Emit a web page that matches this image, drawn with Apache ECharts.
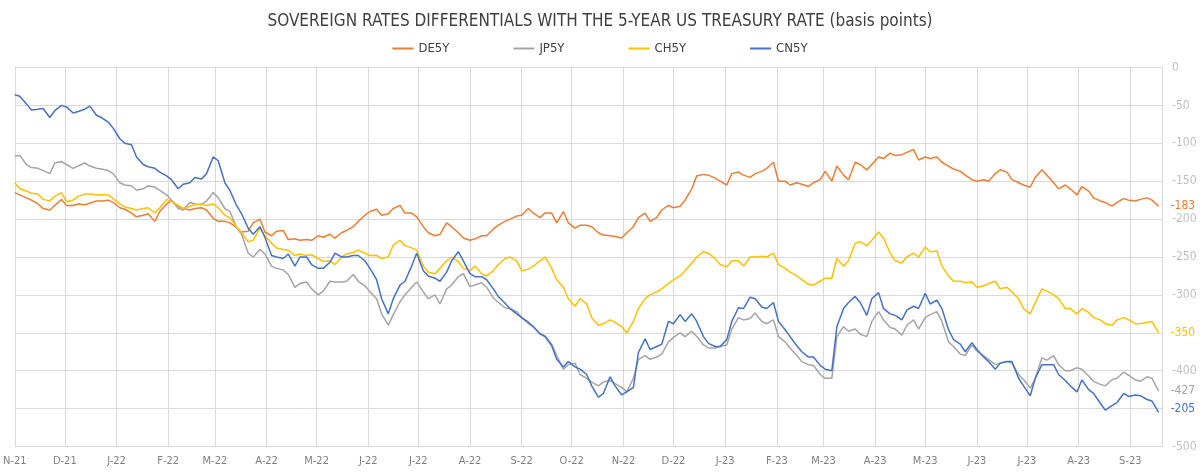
<!DOCTYPE html>
<html>
<head>
<meta charset="utf-8">
<script src="https://cdn.jsdelivr.net/npm/echarts@6/dist/echarts.min.js"></script>
<style>
  html, body { margin: 0; padding: 0; background: #fff; }
  #chart { width: 1200px; height: 472px; }
</style>
</head>
<body>
<div id="chart"></div>
<script>
// readings twice a week: Mondays (starting 1 Nov 2021) and the Thursdays after them
const firstWeek = new Date(2021, 10, 1);
const lastDay = new Date(2023, 8, 20);

const seriesNames = ["DE5Y", "JP5Y", "CH5Y", "CN5Y"];
const seriesColors = ["#ED7D31", "#A5A5A5", "#FFC000", "#4472C4"];
const endLabels = ["-183", "-427", "-350", "-205"];

const de5yMon = [
  -165, -172, -180, -188, -174, -182, -181, -176, -175, -185,
  -192, -195, -203, -180, -183, -188, -185, -199, -203, -211,
  -216, -200, -222, -215, -226, -227, -222, -220, -218, -210,
  -195, -187, -193, -182, -192, -210, -222, -205, -218, -228,
  -222, -213, -203, -196, -186, -198, -192, -190, -212, -208,
  -218, -222, -225, -210, -192, -198, -182, -183, -160, -141,
  -146, -155, -138, -145, -137, -125, -150, -152, -157, -148,
  -150, -142, -125, -135, -118, -113, -115, -108, -118, -118,
  -130, -137, -148, -148, -140, -138, -152, -158, -135, -152,
  -155, -168, -163, -176, -183, -173, -176, -172, -183
];
const de5yThu = [
  -168, -175, -186, -182, -182, -180, -179, -176, -178, -187,
  -197, -193, -190, -176, -186, -186, -188, -203, -205, -217,
  -205, -217, -216, -227, -228, -228, -224, -225, -215, -203,
  -190, -195, -186, -192, -197, -218, -220, -210, -225, -226,
  -222, -208, -200, -195, -192, -192, -205, -205, -208, -210,
  -221, -223, -218, -198, -203, -188, -185, -175, -143, -142,
  -150, -140, -142, -140, -133, -150, -155, -154, -152, -137,
  -130, -148, -128, -128, -120, -116, -112, -122, -120, -125,
  -134, -142, -150, -150, -135, -148, -155, -145, -142, -160,
  -160, -157, -172, -178, -178, -175, -174, -175
];

const jp5yMon = [
  -117, -128, -133, -140, -124, -133, -126, -133, -136, -152,
  -156, -160, -158, -168, -186, -178, -181, -165, -186, -211,
  -245, -240, -262, -267, -290, -283, -300, -282, -283, -273,
  -288, -305, -340, -309, -290, -296, -300, -292, -276, -289,
  -284, -304, -317, -322, -338, -352, -365, -398, -390, -410,
  -420, -413, -422, -410, -380, -382, -362, -350, -348, -366,
  -370, -366, -330, -331, -335, -333, -362, -380, -392, -405,
  -410, -342, -345, -355, -322, -343, -353, -333, -330, -322,
  -362, -378, -366, -380, -392, -388, -405, -423, -383, -380,
  -400, -396, -407, -418, -412, -402, -412, -408, -427
];
const jp5yThu = [
  -116, -132, -136, -126, -128, -130, -130, -134, -140, -155,
  -162, -156, -162, -175, -188, -180, -176, -172, -190, -220,
  -250, -246, -265, -273, -285, -292, -295, -283, -282, -282,
  -296, -325, -326, -300, -283, -305, -312, -287, -272, -287,
  -290, -310, -318, -330, -342, -354, -380, -392, -405, -415,
  -415, -417, -428, -385, -385, -378, -356, -355, -355, -370,
  -368, -345, -333, -324, -338, -355, -370, -388, -393, -410,
  -355, -348, -352, -335, -333, -345, -340, -345, -326, -335,
  -368, -380, -374, -385, -390, -390, -412, -410, -386, -392,
  -400, -398, -414, -420, -410, -406, -414, -410
];

const ch5yMon = [
  -152, -163, -167, -176, -165, -175, -167, -168, -168, -180,
  -186, -186, -192, -174, -182, -183, -180, -180, -195, -210,
  -230, -212, -232, -240, -248, -248, -252, -255, -250, -244,
  -245, -248, -250, -228, -238, -262, -272, -255, -256, -268,
  -272, -268, -252, -255, -266, -255, -265, -290, -315, -312,
  -340, -333, -342, -335, -305, -296, -285, -275, -258, -243,
  -252, -263, -255, -250, -249, -245, -265, -275, -286, -282,
  -278, -262, -232, -235, -217, -245, -258, -245, -237, -242,
  -275, -282, -283, -288, -282, -290, -305, -325, -292, -300,
  -318, -325, -323, -333, -340, -330, -338, -336, -350
];
const ch5yThu = [
  -160, -166, -174, -170, -177, -170, -167, -168, -173, -184,
  -188, -185, -185, -177, -186, -181, -182, -185, -198, -218,
  -228, -222, -238, -241, -246, -247, -256, -260, -246, -241,
  -248, -252, -234, -235, -241, -270, -265, -250, -265, -262,
  -275, -260, -250, -268, -262, -250, -280, -305, -305, -330,
  -338, -336, -350, -318, -300, -292, -280, -268, -250, -245,
  -260, -255, -262, -250, -250, -260, -270, -280, -287, -278,
  -252, -255, -230, -228, -225, -255, -250, -250, -243, -262,
  -282, -284, -290, -285, -292, -296, -318, -310, -295, -305,
  -318, -318, -330, -338, -333, -333, -338, -335
];

const cn5yMon = [
  -36, -48, -55, -66, -50, -60, -55, -63, -72, -94,
  -102, -128, -133, -143, -160, -152, -147, -118, -152, -182,
  -212, -210, -248, -252, -262, -250, -265, -257, -250, -248,
  -255, -280, -325, -287, -262, -268, -278, -270, -243, -272,
  -276, -292, -311, -325, -336, -351, -367, -395, -395, -405,
  -435, -408, -432, -422, -358, -368, -335, -326, -325, -355,
  -368, -359, -317, -303, -316, -310, -346, -367, -382, -393,
  -400, -318, -302, -327, -297, -325, -333, -315, -298, -307,
  -346, -365, -363, -382, -398, -388, -410, -433, -392, -392,
  -413, -428, -425, -443, -446, -430, -432, -438, -455
];
const cn5yThu = [
  -38, -56, -54, -57, -52, -58, -51, -66, -80, -100,
  -118, -131, -138, -148, -154, -145, -140, -123, -162, -193,
  -220, -224, -250, -246, -250, -260, -265, -245, -250, -248,
  -265, -305, -305, -282, -245, -275, -282, -255, -255, -276,
  -280, -302, -318, -330, -342, -355, -385, -388, -398, -420,
  -430, -420, -428, -376, -372, -365, -338, -335, -335, -364,
  -368, -335, -318, -305, -318, -335, -355, -375, -382, -398,
  -342, -310, -310, -305, -318, -327, -320, -318, -312, -318,
  -359, -375, -372, -388, -390, -388, -420, -410, -392, -405,
  -420, -412, -430, -452, -442, -434, -433, -440
];

const mondays = [de5yMon, jp5yMon, ch5yMon, cn5yMon];
const thursdays = [de5yThu, jp5yThu, ch5yThu, cn5yThu];

function dayAfter(start, n) {
  const d = new Date(start);
  d.setDate(d.getDate() + n);
  return d.getTime();
}

function buildSeries(k) {
  const out = [];
  mondays[k].forEach((v, i) => {
    out.push([dayAfter(firstWeek, 7 * i), v]);
    if (i < thursdays[k].length) {
      out.push([dayAfter(firstWeek, 7 * i + 3), thursdays[k][i]]);
    }
  });
  return out;
}

const monthLetters = "JFMAMJJASOND";
const fontStack = "'DejaVu Sans Condensed', 'Liberation Sans Narrow', sans-serif";

const chart = echarts.init(document.getElementById("chart"));

const option = {
  animation: false,
  textStyle: { fontFamily: fontStack },
  title: {
    text: "SOVEREIGN RATES DIFFERENTIALS WITH THE 5-YEAR US TREASURY RATE (basis points)",
    left: "center",
    top: 8,
    textStyle: {
      color: "#404040",
      fontSize: 17,
      fontWeight: "normal",
      fontFamily: fontStack
    }
  },
  legend: {
    top: 37,
    left: "center",
    itemGap: 64,
    itemWidth: 21,
    itemHeight: 2,
    icon: "rect",
    textStyle: { color: "#404040", fontSize: 13 },
    data: seriesNames
  },
  grid: { left: 12, right: 38, top: 67.5, bottom: 25.5 },
  xAxis: {
    type: "time",
    min: firstWeek.getTime(),
    max: lastDay.getTime(),
    splitNumber: 23,
    axisLine: { show: false },
    axisTick: { show: false },
    axisLabel: {
      color: "#7f7f7f",
      fontSize: 11,
      margin: 9,
      hideOverlap: false,
      formatter: (v) => {
        const d = new Date(v);
        return monthLetters[d.getMonth()] + "-" + String(d.getFullYear()).slice(2);
      }
    },
    splitLine: { show: true, lineStyle: { color: "#d9d9d9", width: 1 } }
  },
  yAxis: {
    type: "value",
    position: "right",
    min: -500,
    max: 0,
    interval: 50,
    axisLine: { show: false },
    axisTick: { show: false },
    axisLabel: { color: "#bfbfbf", fontSize: 12, margin: 10 },
    splitLine: { lineStyle: { color: "#d9d9d9", width: 1 } }
  },
  series: seriesNames.map((name, k) => ({
    name: name,
    type: "line",
    showSymbol: false,
    symbol: "none",
    color: seriesColors[k],
    lineStyle: { width: 1.5, color: seriesColors[k] },
    data: buildSeries(k),
    endLabel: {
      show: true,
      formatter: endLabels[k],
      color: seriesColors[k],
      fontSize: 12,
      distance: 10,
      offset: k === 3 ? [0, -4] : [0, 0],
      padding: [1, 4, 1, 2],
      backgroundColor: "#fff"
    }
  }))
};

chart.setOption(option);
</script>
</body>
</html>
